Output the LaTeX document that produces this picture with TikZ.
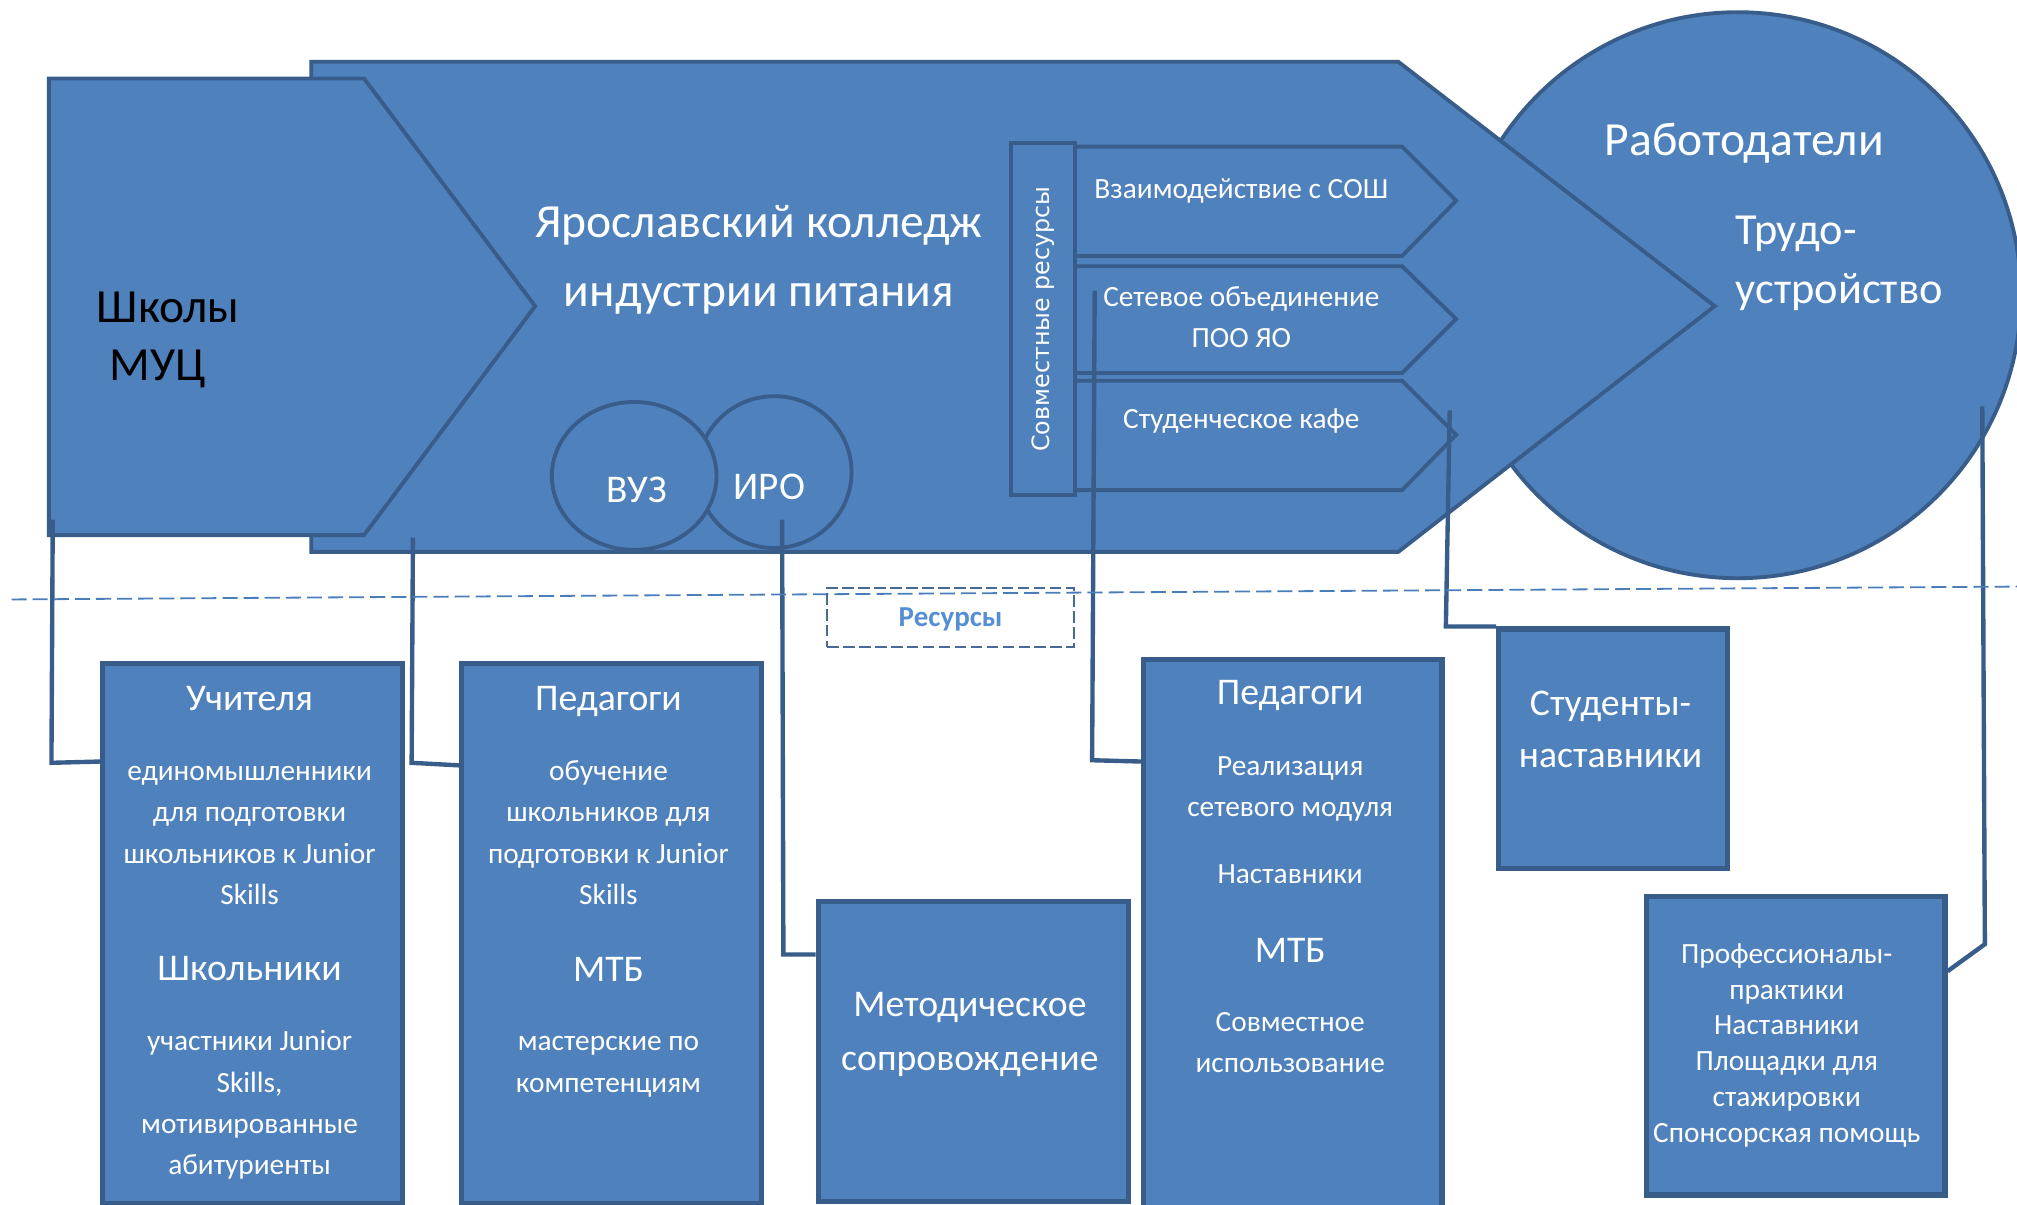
\documentclass[tikz,border=0pt]{standalone}
\usepackage{fontspec}
\usetikzlibrary{shapes.geometric}
\setmainfont{Carlito}
\newfontfamily\dvs{DejaVu Sans}
\definecolor{fillb}{HTML}{4F81BD}
\definecolor{edgeb}{HTML}{385D8A}
\definecolor{dashb}{HTML}{4A7EBB}
\definecolor{resb}{HTML}{558ED5}
\definecolor{resedge}{HTML}{4A6A96}
\tikzset{
  shp/.style={fill=fillb, draw=edgeb, line width=3pt, line join=miter},
  bx/.style={fill=fillb, draw=edgeb, line width=4pt, inner sep=0pt, anchor=north west},
  conn/.style={draw=edgeb, line width=3.4pt, line join=miter},
  wt/.style={text=white, inner sep=0pt, anchor=base},
  fa/.style={font=\fontsize{22.8}{27}\selectfont},
  fb/.style={font=\fontsize{29.3}{35}\selectfont},
  fc/.style={font=\fontsize{37}{44}\selectfont},
  fd/.style={font=\fontsize{34.5}{41}\selectfont},
}
\begin{document}
\begin{tikzpicture}[x=1pt,y=-1pt]
\useasboundingbox (0,0) rectangle (1568,936);
\clip (0,0) rectangle (1568,936);
\fill[white] (0,0) rectangle (1568,936);

% employers circle (behind)
\draw[shp] (1351,229.5) circle[radius=220];
% college chevron
\draw[shp] (242,48) -- (1087,48) -- (1333,238) -- (1087,429) -- (242,429) -- cycle;
% schools chevron
\draw[shp] (38,61) -- (283,61) -- (416,238) -- (283,416) -- (38,416) -- cycle;
% circles
\node[shp, ellipse, minimum width=120pt, minimum height=118pt, inner sep=0pt] (iro) at (602,367) {};
\node[shp, ellipse, minimum width=128pt, minimum height=115pt, inner sep=0pt] (vuz) at (493,370) {};
% pentagons
\draw[shp] (811,114) -- (1090,114) -- (1132,156) -- (1090,199) -- (811,199) -- cycle;
\draw[shp] (811,207) -- (1090,207) -- (1132,248) -- (1090,290) -- (811,290) -- cycle;
\draw[shp] (811,296) -- (1090,296) -- (1132,338) -- (1090,381) -- (811,381) -- cycle;
% shared resources bar
\node[shp, inner sep=0pt, minimum width=50pt, minimum height=273pt] (sovm) at (811,248) {};
\node[text=white, inner sep=0pt, rotate=90, font=\dvs\fontsize{18.5}{22}\selectfont] (tsovm) at (811,248) {Совместные ресурсы};

% texts top
\node[inner sep=0pt, anchor=base west, font=\fontsize{37}{44}\selectfont] (tsch1) at (75,251) {Школы};
\node[inner sep=0pt, anchor=base west, font=\fontsize{37}{44}\selectfont] (tsch2) at (85,296) {МУЦ};
\node[wt, fc] (tcol1) at (590,185) {Ярославский колледж};
\node[wt, fc] (tcol2) at (590,238) {индустрии питания};
\node[wt, font=\fontsize{30.5}{36}\selectfont] (tvuz) at (495,391) {ВУЗ};
\node[wt, font=\fontsize{30.5}{36}\selectfont] (tiro) at (598,388) {ИРО};
\node[wt, fc] (temp1) at (1356,121) {Работодатели};
\node[wt, fd, anchor=base west] (temp2) at (1349,190) {Трудо-};
\node[wt, fd, anchor=base west] (temp3) at (1349,236) {устройство};
\node[wt, fa] (tp1) at (965,154) {Взаимодействие с СОШ};
\node[wt, fa] (tp2a) at (965,238) {Сетевое объединение};
\node[wt, fa] (tp2b) at (965,270) {ПОО ЯО};
\node[wt, fa] (tp3) at (965,333) {Студенческое кафе};

% bottom boxes
\node[bx, minimum width=233pt, minimum height=420pt] (uch) at (78,514) {};
\node[bx, minimum width=233pt, minimum height=420pt] (ped1) at (357,514) {};
\node[bx, minimum width=241pt, minimum height=233pt] (met) at (634,699) {};
\node[bx, minimum width=232pt, minimum height=440pt] (ped2) at (887,511) {};
\node[bx, minimum width=178pt, minimum height=186pt] (stud) at (1163,487) {};
\node[bx, minimum width=232pt, minimum height=232pt] (prof) at (1278,695) {};

% connectors
\coordinate (s1) at (41,404);
\coordinate (s2) at (321,418);
\coordinate (s3) at (608,404);
\coordinate (s4) at (851,226);
\coordinate (s5) at (1127,319);
\coordinate (s6) at (1541,316);
\draw[conn] (s1) -- (40,593) -- (uch.west |- 0,592);
\draw[conn] (s2) -- (320,593) -- (ped1.west |- 0,595);
\draw[conn] (s3) -- (609,742) -- (met.west |- 0,742);
\draw[conn] (s4) -- (849,591) -- (ped2.west |- 0,592);
\draw[conn] (s5) -- (1124,487) -- (stud.north west);
\draw[conn] (s6) -- (1543,734) -- (prof.east |- 0,755);

% dashed divider and resources box
\coordinate (dl) at (9,466);
\coordinate (dr) at (1568,456);
\draw[dashb, line width=1.4pt, dash pattern=on 11.7pt off 4.7pt] (dl) -- (dr);
\node[draw=resedge, line width=1.1pt, dash pattern=on 9pt off 3.4pt, inner sep=0pt, minimum width=192pt, minimum height=46pt] (res) at (739,480) {};
\node[inner sep=0pt, anchor=base, text=resb, font=\bfseries\fontsize{22.5}{27}\selectfont] (tres) at (739,487) {Ресурсы};

% Учителя
\node[wt, fb] (u1) at (194,552) {Учителя};
\node[wt, fa] (u2) at (194,607) {единомышленники};
\node[wt, fa] (u3) at (194,639) {для подготовки};
\node[wt, fa] (u4) at (194,671) {школьников к Junior};
\node[wt, fa] (u5) at (194,703) {Skills};
\node[wt, fb] (u6) at (194,762) {Школьники};
\node[wt, fa] (u7) at (194,817) {участники Junior};
\node[wt, fa] (u8) at (194,849) {Skills,};
\node[wt, fa] (u9) at (194,881) {мотивированные};
\node[wt, fa] (u10) at (194,913) {абитуриенты};
% Педагоги 1
\node[wt, fb] (p1) at (473,552) {Педагоги};
\node[wt, fa] (p2) at (473,607) {обучение};
\node[wt, fa] (p3) at (473,639) {школьников для};
\node[wt, fa] (p4) at (473,671) {подготовки к Junior};
\node[wt, fa] (p5) at (473,703) {Skills};
\node[wt, fb] (p6) at (473,763) {МТБ};
\node[wt, fa] (p7) at (473,817) {мастерские по};
\node[wt, fa] (p8) at (473,849) {компетенциям};
% Методическое
\node[wt, fb] (m1) at (754,790) {Методическое};
\node[wt, fb] (m2) at (754,832) {сопровождение};
% Педагоги 2
\node[wt, fb] (q1) at (1003,548) {Педагоги};
\node[wt, fa] (q2) at (1003,603) {Реализация};
\node[wt, fa] (q3) at (1003,635) {сетевого модуля};
\node[wt, fa] (q4) at (1003,687) {Наставники};
\node[wt, fb] (q5) at (1003,748) {МТБ};
\node[wt, fa] (q6) at (1003,802) {Совместное};
\node[wt, fa] (q7) at (1003,834) {использование};
% Студенты
\node[wt, fb] (st1) at (1252,556) {Студенты-};
\node[wt, fb] (st2) at (1252,597) {наставники};
% Профессионалы
\node[wt, fa] (r1) at (1389,749) {Профессионалы-};
\node[wt, fa] (r2) at (1389,777) {практики};
\node[wt, fa] (r3) at (1389,804) {Наставники};
\node[wt, fa] (r4) at (1389,832) {Площадки для};
\node[wt, fa] (r5) at (1389,860) {стажировки};
\node[wt, fa] (r6) at (1389,888) {Спонсорская помощь};
\end{tikzpicture}
\end{document}
